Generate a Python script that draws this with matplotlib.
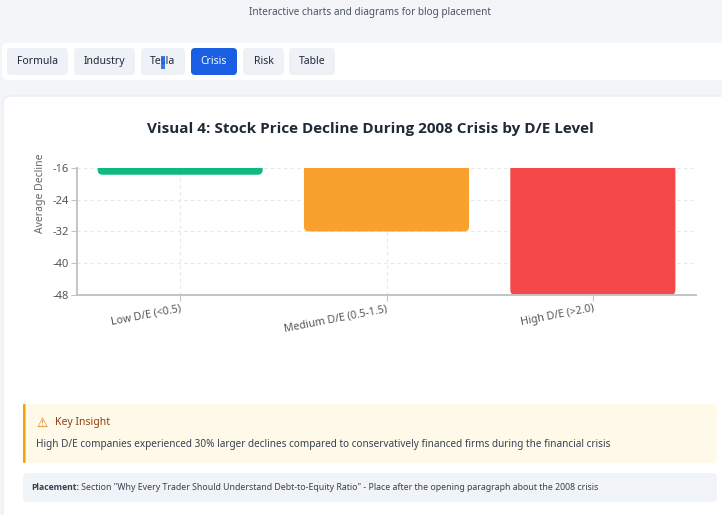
import matplotlib
matplotlib.use("Agg")
import matplotlib.pyplot as plt
from matplotlib.patches import FancyBboxPatch, Rectangle
from matplotlib.transforms import IdentityTransform

# ---- data ----
categories = ["Low D/E (<0.5)", "Medium D/E (0.5-1.5)", "High D/E (>2.0)"]
declines = [-17.7, -32.0, -48.0]
bar_colors = ["#10b981", "#f9a12f", "#f54848"]
y_ticks = [-48, -40, -32, -24, -16]
tabs = ["Formula", "Industry", "Tesla", "Crisis", "Risk", "Table"]
active_tab = "Crisis"
title = "Visual 4: Stock Price Decline During 2008 Crisis by D/E Level"
subtitle = "Interactive charts and diagrams for blog placement"
insight_head = "Key Insight"
insight_body = ("High D/E companies experienced 30% larger declines compared to "
                "conservatively financed firms during the financial crisis")
placement_label = "Placement:"
placement_text = (' Section "Why Every Trader Should Understand Debt-to-Equity Ratio" - '
                  'Place after the opening paragraph about the 2008 crisis')

W, H = 722, 515
plt.rcParams['font.family'] = ['Noto Sans', 'DejaVu Sans']
BOLD = ['Open Sans', 'DejaVu Sans']
fig = plt.figure(figsize=(W / 100, H / 100), dpi=100)
fig.patch.set_facecolor('#f3f5f9')
ID = IdentityTransform()


def box(x0, y0, x1, y1, fc, r=4, ec='none', lw=0, z=0):
    p = FancyBboxPatch((x0, H - y1), x1 - x0, y1 - y0,
                       boxstyle=f"round,pad=0,rounding_size={r}",
                       fc=fc, ec=ec, lw=lw, transform=ID, zorder=z)
    fig.add_artist(p)
    return p


def txt(x, y, s, **kw):
    return fig.text(x / W, 1 - y / H, s, **kw)


# header subtitle
txt(370, 13, subtitle, ha='center', va='center', fontsize=7.2, color='#4b5563')

# tab bar
box(2, 43, 740, 80, '#ffffff', r=6)
tab_x = [(7, 68), (74, 135), (141, 185), (191, 237), (243, 284), (289, 335)]
for name, (x0, x1) in zip(tabs, tab_x):
    active = name == active_tab
    box(x0, 48, x1, 75, '#1a5fe3' if active else '#eef1f6', r=4, z=1)
    txt((x0 + x1) / 2, 61.5, name, ha='center', va='center', fontsize=7.5,
        color='#ffffff' if active else '#1f2937', zorder=2)
# text-selection caret seen in the "Tesla" tab
fig.add_artist(Rectangle((161, H - 69), 3.5, 13, fc='#1a5fe3', ec='none',
                         alpha=0.85, transform=ID, zorder=3))

# main card
box(3, 96, 740, 540, '#ffffff', r=8, ec='#e8ebf0', lw=0.8)

# chart title
txt(370, 129, title, ha='center', va='center', fontsize=11, weight='bold',
    color='#1f2937', family=BOLD)

# chart
ax = fig.add_axes([77 / W, 1 - 295 / H, (696 - 77) / W, (295 - 168) / H])
ax.set_facecolor('none')
xs = list(range(len(categories)))
bars = ax.bar(xs, declines, width=0.8, color=bar_colors)
ax.set_xlim(-0.5, len(categories) - 0.5)
ax.set_ylim(min(y_ticks), max(y_ticks))
x_unit = (696 - 77) / len(categories)
y_unit = (295 - 168) / (max(y_ticks) - min(y_ticks))
r_px = 5
for b, c in zip(bars, bar_colors):
    bx, by, bw, bh = b.get_x(), b.get_y(), b.get_width(), b.get_height()
    b.set_visible(False)
    fb = FancyBboxPatch((bx, by + bh), bw, -bh,
                        boxstyle=f"round,pad=0,rounding_size={r_px / x_unit}",
                        mutation_aspect=(r_px / y_unit) / (r_px / x_unit),
                        fc=c, ec='none', zorder=2)
    ax.add_patch(fb)

ax.set_yticks(y_ticks)
ax.set_yticklabels([str(v) for v in y_ticks])
ax.set_xticks(xs)
ax.set_xticklabels(categories, rotation=11, ha='right', rotation_mode='anchor')
ax.grid(True, ls=(0, (3, 3)), color='#e5e7eb', lw=0.8, zorder=0)
ax.set_axisbelow(True)
for s in ['top', 'right']:
    ax.spines[s].set_visible(False)
for s in ['left', 'bottom']:
    ax.spines[s].set_color('#c4c4c4')
    ax.spines[s].set_linewidth(1.4)
ax.tick_params(axis='both', colors='#c4c4c4', labelcolor='#555555',
               labelsize=8, length=4, width=0.8)
ax.tick_params(axis='x', labelsize=7.7, pad=2)
ax.tick_params(axis='y', pad=2)
txt(40, 193, "Average Decline", rotation=90, ha='center', va='center',
    fontsize=7.5, color='#666666')

# insight box
box(23, 404, 717, 463, '#fef9e9', r=5)
box(23, 404, 25.5, 463, '#f59e0b', r=1, z=1)
txt(42, 423, "\u26a0", ha='center', va='center', fontsize=9, color='#d97706',
    family=['DejaVu Sans'])
txt(55, 423, insight_head, ha='left', va='center', fontsize=7.5,
    color='#92400e')
txt(36, 444, insight_body, ha='left', va='center', fontsize=7.2,
    color='#374151')

# placement box
box(23, 473, 717, 502, '#f0f3f7', r=4)
t1 = txt(31, 488, placement_label, ha='left', va='center', fontsize=6.2,
         weight='bold', color='#374151', family=BOLD)
fig.canvas.draw()
bb = t1.get_window_extent()
fig.text(bb.x1 / W, 1 - 488 / H, placement_text, ha='left', va='center',
         fontsize=6.3, color='#374151')

fig.savefig("out.png", dpi=100, facecolor=fig.get_facecolor())
